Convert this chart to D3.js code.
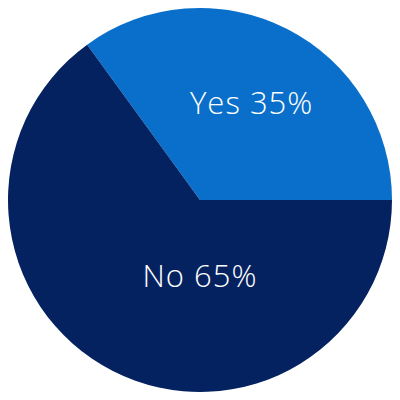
<!DOCTYPE html>
<html>
<head>
<meta charset="utf-8">
<script src="https://cdn.jsdelivr.net/npm/d3@7"></script>
<style>
  html, body { margin: 0; padding: 0; background: #ffffff; }
  svg { display: block; }
  text { font-family: "Open Sans", Lato, sans-serif; font-weight: 300; }
</style>
</head>
<body>
<div id="chart"></div>
<script>
// answers and their shares (percent)
const answers = ["Yes", "No"];
const shares = [35, 65];
const colors = ["#0a6fca", "#052260"];

const width = 400
const height = 400
const cx = 200
const cy = 200
const radius = 192

// label placement per slice: [angle in degrees clockwise from 12 o'clock, distance from centre]
const labelSpots = [[28, 110], [180, 76]];

const data = answers.map((a, i) => ({ answer: a, share: shares[i], color: colors[i] }));

const svg = d3.select("#chart")
    .append("svg")
    .attr("width", width)
    .attr("height", height)

const g = svg.append("g")
    .attr("transform", `translate(${cx},${cy})`)

// Yes slice ends at 3 o'clock, so start the pie 35% before that
const start = Math.PI / 2 - (shares[0] / d3.sum(shares)) * 2 * Math.PI

const pie = d3.pie()
    .value(d => d.share)
    .sort(null)
    .startAngle(start)
    .endAngle(start + 2 * Math.PI)

const arc = d3.arc()
    .innerRadius(0)
    .outerRadius(radius)

g.selectAll("path")
    .data(pie(data))
    .enter()
    .append("path")
    .attr("d", arc)
    .attr("fill", d => d.data.color)

g.selectAll("text")
    .data(pie(data))
    .enter()
    .append("text")
    .attr("x", (d, i) => labelSpots[i][1] * Math.sin(labelSpots[i][0] * Math.PI / 180))
    .attr("y", (d, i) => -labelSpots[i][1] * Math.cos(labelSpots[i][0] * Math.PI / 180))
    .attr("dy", "0.36em")
    .attr("text-anchor", "middle")
    .attr("fill", "#ffffff")
    .attr("font-size", 31)
    .attr("letter-spacing", 1)
    .text(d => `${d.data.answer} ${d.data.share}%`)
</script>
</body>
</html>
